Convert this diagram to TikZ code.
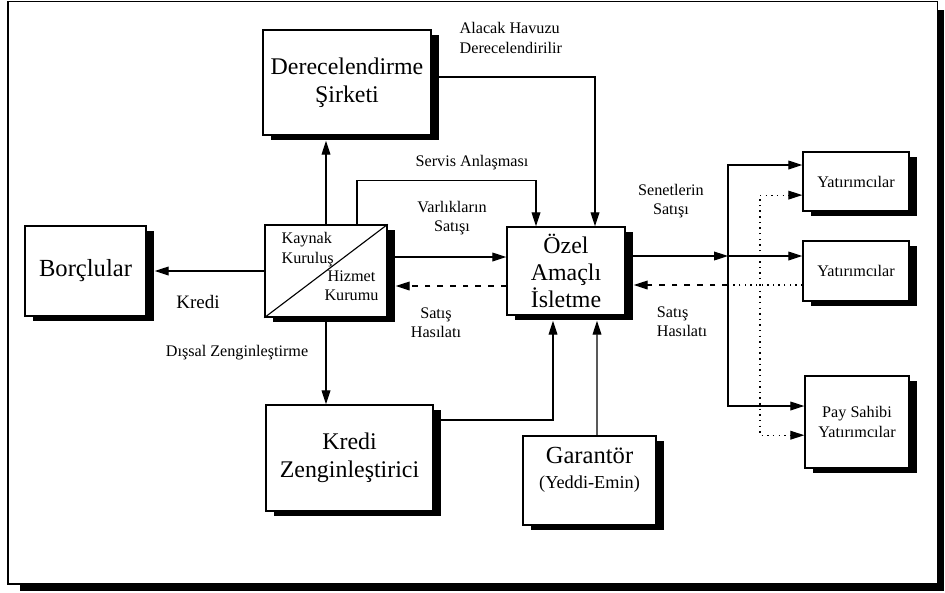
\documentclass[tikz,border=0pt]{standalone}
\usepackage{fontspec}
\setmainfont{Liberation Serif}
\usetikzlibrary{shapes, arrows.meta, calc, positioning, shadows}

\begin{document}
\begin{tikzpicture}[
  % Düğüm stilleri
  kutuBuyuk/.style={
    rectangle, draw=black, fill=white,
    line width=1pt, font=\fontsize{17}{20}\selectfont,
    align=center, inner sep=0pt,
    drop shadow={shadow xshift=0.2cm, shadow yshift=-0.125cm,
      fill=black, opacity=1}
  },
  kutuKucuk/.style={
    kutuBuyuk, font=\fontsize{11.5}{14}\selectfont
  },
  kutuYazi/.style={
    font=\fontsize{11.5}{14}\selectfont, inner sep=0pt
  },
  % Ok stilleri
  ok/.style={
    -{Triangle[length=3.5mm, width=2.2mm]}, line width=0.8pt, draw=black
  },
  kesikli/.style={
    dash pattern=on 4pt off 5pt
  },
  noktali/.style={
    line width=0.8pt, dash pattern=on 1pt off 3pt
  },
  etiket/.style={
    font=\fontsize{11.5}{13.8}\selectfont, inner sep=1pt, align=center
  }
]

% --- Çerçeve ---
\useasboundingbox (0,0) rectangle (23.625,-14.8);
\fill[black] (0.5,-0.25) rectangle (23.6,-14.78);
\draw[line width=0.9pt, fill=white] (0.2,-0.04) rectangle (23.44,-14.6);

% --- Kutular ---
\node[kutuBuyuk, minimum width=4.2cm, minimum height=2.625cm]
  (dere) at (8.675,-2.0625) {Derecelendirme\\Şirketi};
\node[kutuBuyuk, minimum width=3.05cm, minimum height=2.3cm]
  (kaynak) at (8.15,-6.775) {};
\node[kutuBuyuk, font=\fontsize{17}{19}\selectfont,
  minimum width=2.95cm, minimum height=2.2cm]
  (ozel) at (14.15,-6.775) {Özel\\Amaçlı\\İsletme};
\node[kutuBuyuk, font=\fontsize{17.5}{20}\selectfont,
  minimum width=3.025cm, minimum height=2.25cm]
  (borc) at (2.1375,-6.775) {Borçlular};
\node[kutuBuyuk, minimum width=4.175cm, minimum height=2.65cm]
  (kredi) at (8.7375,-11.45) {Kredi\\Zenginleştirici};
\node[kutuBuyuk, minimum width=3.325cm, minimum height=2.225cm]
  (garantor) at (14.7375,-12.0125) {};

% --- Yatırımcılar ---
\node[kutuKucuk, minimum width=2.65cm, minimum height=1.475cm]
  (yat1) at (21.4,-4.5375) {Yatırımcılar};
\node[kutuKucuk, minimum width=2.65cm, minimum height=1.5cm]
  (yat2) at (21.4,-6.775) {Yatırımcılar};
\node[kutuKucuk, minimum width=2.6cm, minimum height=2.3cm]
  (pay) at (21.425,-10.55) {Pay Sahibi\\Yatırımcılar};

% --- Kutu içi yazılar ---
\draw[line width=0.8pt] (kaynak.south west) -- (kaynak.north east);
\node[kutuYazi, anchor=north west, align=left]
  (kaynakYazi) at ([xshift=0.425cm, yshift=-0.19cm]kaynak.north west) {Kaynak\\Kuruluş};
\node[kutuYazi, anchor=south east, align=center]
  (hizmetYazi) at ([xshift=-0.225cm, yshift=0.41cm]kaynak.south east) {Hizmet\\Kurumu};
\node[anchor=north, align=center, inner sep=0pt, font=\fontsize{17.5}{20}\selectfont]
  (garantorYazi) at ([yshift=-0.28cm]garantor.north)
  {Garantör\\[-2pt]{\fontsize{13}{15}\selectfont (Yeddi-Emin)}};

% --- Oklar ---
\draw[ok] ([yshift=0.1375cm]dere.east) -| ([xshift=0.725cm]ozel.north);
\draw[ok] (kaynak.north) -- ($(kaynak.north |- dere.south)+(0,-0.125)$);
\draw[ok] ([xshift=0.775cm]kaynak.north) -- ++(0,1.1) -| ([xshift=-0.75cm]ozel.north);
\draw[ok] ([yshift=0.35cm]kaynak.east) -- ([yshift=0.35cm]ozel.west);
\draw[ok, kesikli] ([yshift=-0.375cm]ozel.west) -- ([xshift=0.2cm, yshift=-0.375cm]kaynak.east);
\draw[ok] (kaynak.west) -- ([xshift=0.2cm]borc.east);
\draw[ok] (kaynak.south) -- (kaynak.south |- kredi.north);
\draw[ok] ([yshift=0.95cm]kredi.east) -| ($(ozel.south)+(-0.325,-0.125)$);
\draw[ok] ([xshift=0.1875cm]garantor.north) -- ($(ozel.south)+(0.775,-0.125)$);

% --- Senetlerin dağıtımı ---
\coordinate (dagit) at (18.2,-6.4);
\draw[ok] ([yshift=0.375cm]ozel.east) -- (dagit);
\draw[ok] (dagit) -- (dagit -| yat2.west);
\draw[ok] (dagit) |- ([yshift=0.4125cm]yat1.west);
\draw[ok] (dagit) |- ([yshift=0.4cm]pay.west);

% --- Satış hasılatı dönüşü ---
\coordinate (geri) at (18.2,-7.125);
\coordinate (nokta) at (19.0,-7.125);
\draw[noktali] ([yshift=-0.35cm]yat2.west) -- (geri);
\draw[ok, kesikli] (geri) -- ([xshift=0.2cm, yshift=-0.35cm]ozel.east);
\draw[ok, noktali] (nokta) |- ([yshift=-0.34cm]yat1.west);
\draw[ok, noktali] (nokta) |- ([yshift=-0.33cm]pay.west);

% --- Etiketler ---
\node[etiket, align=left, anchor=west] (alacakEtiket) at (11.45,-0.95) {Alacak Havuzu\\Derecelendirilir};
\node[etiket] (servisEtiket) at (11.8,-4.075) {Servis Anlaşması};
\node[etiket] (varlikEtiket) at (11.3,-5.45) {Varlıkların\\Satışı};
\node[etiket] (hasilatSol) at (10.9,-8.075) {Satış\\Hasılatı};
\node[etiket] (senetEtiket) at (16.775,-5.025) {Senetlerin\\Satışı};
\node[etiket, align=left] (hasilatSag) at (17.05,-8.05) {Satış\\Hasılatı};
\node[etiket, font=\fontsize{13.5}{16}\selectfont] (krediEtiket) at (4.95,-7.55) {Kredi};
\node[etiket] (dissalEtiket) at (5.925,-8.825) {Dışsal Zenginleştirme};

\end{tikzpicture}
\end{document}
